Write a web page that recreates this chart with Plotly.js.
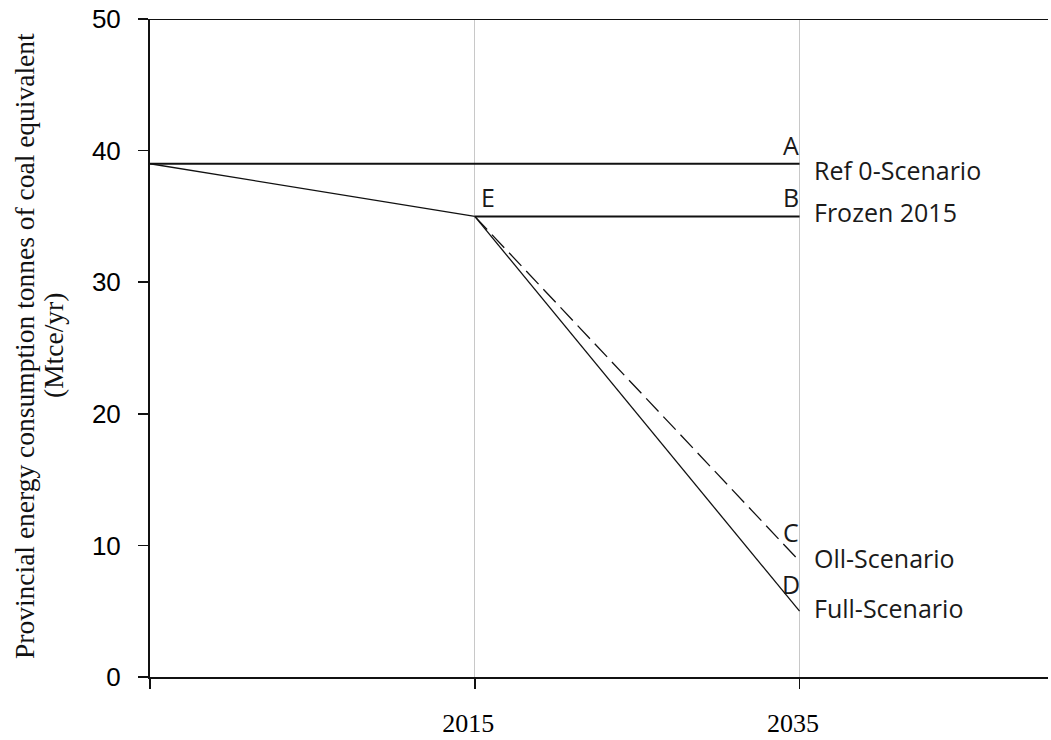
<!DOCTYPE html>
<html>
<head>
<meta charset="utf-8">
<script src="https://cdn.plot.ly/plotly-3.0.1.min.js"></script>
<style>html,body{margin:0;padding:0;background:#fff;}#chart{width:1051px;height:740px;}</style>
</head>
<body>
<div id="chart"></div>
<script>
// Data
const startYear = 1995;
const years = [2015, 2035];
const refValues = [39, 39];          // Ref 0-Scenario (A)
const trendValues = [39, 35];        // decline to E (2015)
const frozenValues = [35, 35];       // Frozen 2015 (B)
const oilValues = [35, 8.8];         // Oll-Scenario (C)
const fullValues = [35, 5];          // Full-Scenario (D)
const yTicks = [0, 10, 20, 30, 40, 50];
const xTickVals = [1995, 2015, 2035];
const xTickText = ['', '2015\u00a0\u00a0', '2035\u00a0\u00a0'];
const yTitleLine1 = 'Provincial energy consumption tonnes of coal equivalent';
const yTitleLine2 = '(Mtce/yr)';

const traces = [
  {x: [startYear, years[1]], y: refValues, mode: 'lines', line: {color: '#111', width: 2}},
  {x: [startYear, years[0]], y: trendValues, mode: 'lines', line: {color: '#111', width: 1.3}},
  {x: years, y: frozenValues, mode: 'lines', line: {color: '#111', width: 2}},
  {x: years, y: oilValues, mode: 'lines', line: {color: '#111', width: 1.3, dash: '18px,7px'}},
  {x: years, y: fullValues, mode: 'lines', line: {color: '#111', width: 1.3}}
];

const sans = {family: 'Open Sans, Noto Sans, sans-serif', size: 25, color: '#1a1a1a'};
const serifTitle = {family: 'Liberation Serif, Times New Roman, serif', size: 27.5, color: '#111'};
function ann(text, x, y, xa, ya, xs, ys) {
  return {text: text, x: x, y: y, xref: 'x', yref: 'y', xanchor: xa, yanchor: ya,
          xshift: xs || 0, yshift: ys || 0, showarrow: false, font: sans};
}

const layout = {
  width: 1051, height: 740,
  margin: {l: 150, r: 3, t: 19, b: 63},
  paper_bgcolor: '#fff', plot_bgcolor: '#fff',
  showlegend: false,
  xaxis: {
    range: [1995, 2050.3], tickvals: xTickVals, ticktext: xTickText,
    showgrid: true, gridcolor: '#c8c8c8', gridwidth: 1,
    showline: true, linecolor: '#111', linewidth: 2,
    ticks: 'outside', ticklen: 10, tickcolor: '#111', tickwidth: 1.5,
    ticklabelstandoff: 12,
    tickfont: {family: 'Liberation Serif, Times New Roman, serif', size: 26, color: '#000'},
    zeroline: false, fixedrange: true
  },
  yaxis: {
    range: [0, 50], tickvals: yTicks,
    showgrid: false, showline: true, linecolor: '#111', linewidth: 2,
    ticks: 'outside', ticklen: 10, tickcolor: '#111', tickwidth: 1.5,
    ticklabelstandoff: 12,
    tickfont: {family: 'Liberation Sans, Arial, sans-serif', size: 26, color: '#000'},
    zeroline: false, fixedrange: true
  },
  shapes: [
    {type: 'line', xref: 'paper', yref: 'y', x0: 0, x1: 1, y0: 50, y1: 50,
     line: {color: '#111', width: 2}}
  ],
  annotations: [
    {text: yTitleLine1, xref: 'paper', yref: 'paper', x: 0, y: 0.503, xanchor: 'center', yanchor: 'middle',
     xshift: -126, textangle: -90, showarrow: false, font: serifTitle},
    {text: yTitleLine2, xref: 'paper', yref: 'paper', x: 0, y: 0.503, xanchor: 'center', yanchor: 'middle',
     xshift: -97, textangle: -90, showarrow: false, font: serifTitle},
    ann('A', 2035, refValues[1], 'right', 'bottom', 1, 0),
    ann('Ref 0-Scenario', 2035, refValues[1], 'left', 'middle', 12, -6),
    ann('E', years[0], frozenValues[0], 'left', 'bottom', 4, 0),
    ann('B', 2035, frozenValues[1], 'right', 'bottom', 1, 0),
    ann('Frozen 2015', 2035, frozenValues[1], 'left', 'middle', 12, 4),
    ann('C', 2035, oilValues[1], 'right', 'bottom', 1, 10),
    ann('Oll-Scenario', 2035, oilValues[1], 'left', 'middle', 12, 3),
    ann('D', 2035, fullValues[1], 'right', 'bottom', 2, 8),
    ann('Full-Scenario', 2035, fullValues[1], 'left', 'middle', 12, 3)
  ]
};

Plotly.newPlot('chart', traces, layout, {displayModeBar: false, staticPlot: true});
</script>
</body>
</html>
